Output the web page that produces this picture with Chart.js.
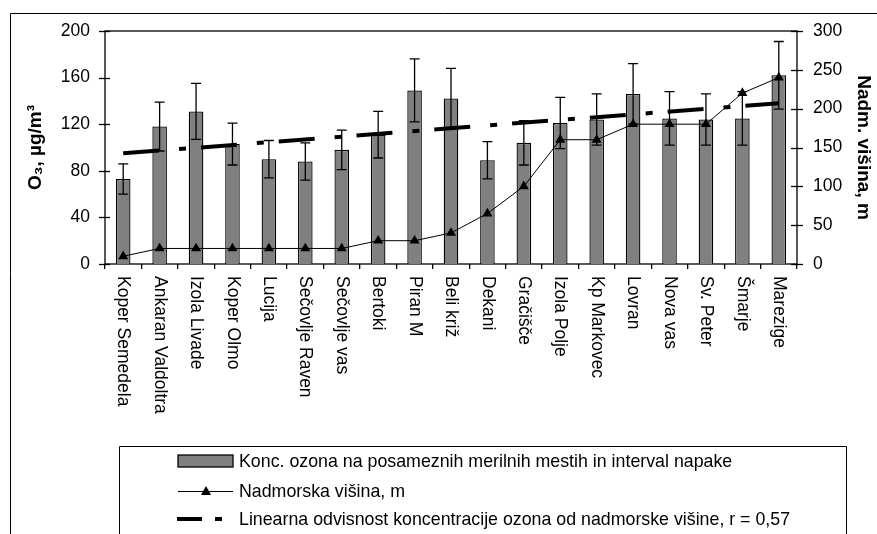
<!DOCTYPE html>
<html>
<head>
<meta charset="utf-8">
<script src="https://cdn.jsdelivr.net/npm/chart.js@4.4.0/dist/chart.umd.min.js"></script>
<style>
html,body{margin:0;padding:0;background:#fff;}
canvas{display:block;}
</style>
</head>
<body>
<canvas id="c" width="877" height="534"></canvas>
<script>
const categories = ['Koper Semedela','Ankaran Valdoltra','Izola Livade','Koper Olmo','Lucija','Sečovlje Raven','Sečovlje vas','Bertoki','Piran M','Beli križ','Dekani','Gračišče','Izola Polje','Kp Markovec','Lovran','Nova vas','Sv. Peter','Šmarje','Marezige'];
const ozone = [73, 118, 131, 103, 90, 88, 98, 111, 149, 142, 89, 104, 121, 124, 146, 125, 124, 125, 162];
const ozoneError = [13, 21, 24, 18, 16, 16, 17, 20, 27, 26, 16, 19, 22, 22, 26, 23, 22, 23, 29];
const altitude = [10, 20, 20, 20, 20, 20, 20, 30, 30, 40, 65, 100, 160, 160, 180, 180, 180, 220, 240];
const trendEnds = [95, 138];
const leftTickValues = [0, 40, 80, 120, 160, 200];
const rightTickValues = [0, 50, 100, 150, 200, 250, 300];
const legendLabels = [
  'Konc. ozona na posameznih merilnih mestih in interval napake',
  'Nadmorska višina, m',
  'Linearna odvisnost koncentracije ozona od nadmorske višine, r = 0,57'
];

const FONT = "'Liberation Sans', Arial, sans-serif";
Chart.defaults.font.family = FONT;
Chart.defaults.font.size = 17.5;
Chart.defaults.color = '#000';

const trendData = [
  {x: categories[0], y: trendEnds[0]},
  {x: categories[categories.length - 1], y: trendEnds[1]}
];

const decorPlugin = {
  id: 'decor',
  beforeDatasetsDraw(chart) {
    const {ctx, chartArea: a} = chart;
    ctx.save();
    ctx.strokeStyle = '#000';
    ctx.lineWidth = 1.3;
    ctx.strokeRect(a.left, a.top, a.right - a.left, a.bottom - a.top);
    const ys = chart.scales.y, y1 = chart.scales.y1;
    ys.ticks.forEach(t => {
      const p = Math.round(ys.getPixelForValue(t.value)) + 0.5;
      ctx.beginPath(); ctx.moveTo(a.left - 6, p); ctx.lineTo(a.left + 5, p); ctx.stroke();
    });
    y1.ticks.forEach(t => {
      const p = Math.round(y1.getPixelForValue(t.value)) + 0.5;
      ctx.beginPath(); ctx.moveTo(a.right - 6, p); ctx.lineTo(a.right + 6, p); ctx.stroke();
    });
    ctx.restore();
  },
  afterDatasetDraw(chart, args) {
    if (args.index !== 0) return;
    const {ctx} = chart;
    const ys = chart.scales.y;
    const meta = chart.getDatasetMeta(0);
    ctx.save();
    ctx.strokeStyle = '#000';
    ctx.lineWidth = 1.3;
    meta.data.forEach((bar, i) => {
      const x = bar.x;
      const top = ys.getPixelForValue(ozone[i] + ozoneError[i]);
      const bot = ys.getPixelForValue(ozone[i] - ozoneError[i]);
      ctx.beginPath();
      ctx.moveTo(x, top); ctx.lineTo(x, bot);
      ctx.moveTo(x - 5, top); ctx.lineTo(x + 5, top);
      ctx.moveTo(x - 5, bot); ctx.lineTo(x + 5, bot);
      ctx.stroke();
    });
    ctx.restore();
  },
  afterDraw(chart) {
    const {ctx, chartArea: a} = chart;
    const xs = chart.scales.x;
    ctx.save();
    ctx.fillStyle = '#000';
    ctx.font = '17.5px ' + FONT;
    ctx.textAlign = 'left';
    ctx.textBaseline = 'middle';
    categories.forEach((c, i) => {
      const x = xs.getPixelForValue(i);
      ctx.save();
      ctx.translate(x, a.bottom + 12);
      ctx.rotate(Math.PI / 2);
      ctx.fillText(c, 0, 0);
      ctx.restore();
    });
    ctx.strokeStyle = '#000';
    ctx.lineWidth = 1;
    ctx.beginPath();
    ctx.moveTo(10.5, 534); ctx.lineTo(10.5, 13.5); ctx.lineTo(877, 13.5);
    ctx.stroke();
    ctx.beginPath();
    ctx.moveTo(119.5, 534); ctx.lineTo(119.5, 446.5); ctx.lineTo(846.5, 446.5); ctx.lineTo(846.5, 534);
    ctx.stroke();
    const rows = [461, 491, 519];
    ctx.fillStyle = '#808080';
    ctx.fillRect(178, 455, 55, 12);
    ctx.lineWidth = 1.3;
    ctx.strokeRect(178, 455, 55, 12);
    ctx.lineWidth = 1;
    ctx.beginPath(); ctx.moveTo(178, rows[1] + 0.5); ctx.lineTo(233, rows[1] + 0.5); ctx.stroke();
    ctx.fillStyle = '#000';
    ctx.beginPath();
    ctx.moveTo(206, rows[1] - 5); ctx.lineTo(211, rows[1] + 4); ctx.lineTo(201, rows[1] + 4); ctx.closePath();
    ctx.fill();
    ctx.fillRect(177, rows[2] - 2, 25, 4);
    ctx.fillRect(215, rows[2] - 2, 7, 4);
    ctx.font = '17.8px ' + FONT;
    ctx.textAlign = 'left';
    ctx.textBaseline = 'middle';
    legendLabels.forEach((t, i) => ctx.fillText(t, 239, rows[i] + 1));
    ctx.restore();
  }
};

new Chart(document.getElementById('c'), {
  data: {
    labels: categories,
    datasets: [
      {
        type: 'bar',
        label: legendLabels[0],
        data: ozone,
        yAxisID: 'y',
        backgroundColor: '#808080',
        borderColor: '#000',
        borderWidth: 1.3,
        barPercentage: 0.4,
        categoryPercentage: 1,
        order: 3
      },
      {
        type: 'line',
        label: legendLabels[2],
        data: trendData,
        yAxisID: 'y',
        borderColor: '#000',
        borderWidth: 4,
        borderDash: [36, 20, 7, 15],
        pointRadius: 0,
        fill: false,
        order: 2
      },
      {
        type: 'line',
        label: legendLabels[1],
        data: altitude,
        yAxisID: 'y1',
        borderColor: '#000',
        borderWidth: 1,
        pointStyle: 'triangle',
        pointRadius: 5.8,
        pointBackgroundColor: '#000',
        pointBorderColor: '#000',
        pointBorderWidth: 0,
        fill: false,
        tension: 0,
        order: 1
      }
    ]
  },
  options: {
    responsive: false,
    animation: false,
    devicePixelRatio: 1,
    layout: {padding: {top: 31, left: 0, right: 0, bottom: 0}},
    plugins: {legend: {display: false}, tooltip: {enabled: false}},
    scales: {
      x: {
        type: 'category',
        offset: true,
        grid: {display: true, drawOnChartArea: false, drawTicks: true, tickLength: 5, color: '#000', lineWidth: 1.3, offset: true},
        border: {display: false},
        ticks: {display: false},
        afterFit(s) { s.height = 270; }
      },
      y: {
        position: 'left',
        min: 0, max: 200,
        afterBuildTicks(s) { s.ticks = leftTickValues.map(v => ({value: v})); },
        grid: {display: false, drawTicks: false},
        border: {display: false},
        ticks: {padding: 15},
        title: {display: true, text: 'O₃, µg/m³', font: {size: 19, weight: 'bold'}, padding: {top: 24, bottom: 0}},
        afterFit(s) { s.width = 105; }
      },
      y1: {
        position: 'right',
        min: 0, max: 300,
        afterBuildTicks(s) { s.ticks = rightTickValues.map(v => ({value: v})); },
        grid: {display: false, drawTicks: false},
        border: {display: false},
        ticks: {padding: 16},
        title: {display: true, text: 'Nadm. višina, m', font: {size: 19, weight: 'bold'}, padding: {top: 2, bottom: 0}},
        afterFit(s) { s.width = 80; }
      }
    }
  },
  plugins: [decorPlugin]
});
</script>
</body>
</html>
